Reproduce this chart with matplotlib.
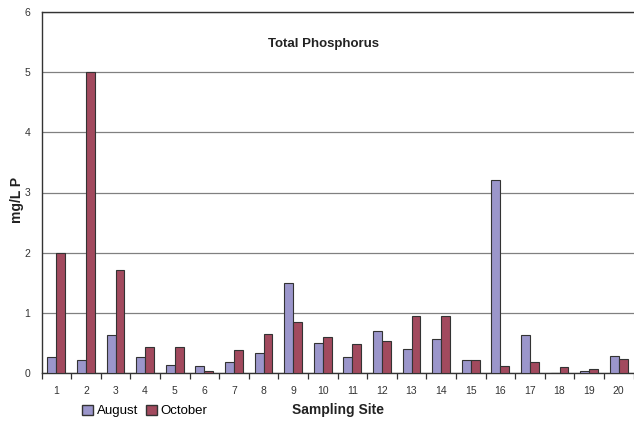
import numpy as np
import matplotlib
matplotlib.use('Agg')
import matplotlib.pyplot as plt
from matplotlib.patches import Patch

plt.rcParams['font.family'] = ['Liberation Sans', 'DejaVu Sans']

SITES = [str(i) for i in range(1, 21)]
AUGUST = [0.26, 0.22, 0.63, 0.26, 0.13, 0.11, 0.18, 0.34, 1.50, 0.50,
          0.27, 0.70, 0.40, 0.56, 0.21, 3.20, 0.63, 0.00, 0.03, 0.28]
OCTOBER = [2.00, 5.00, 1.71, 0.44, 0.44, 0.03, 0.39, 0.65, 0.85, 0.60,
           0.48, 0.54, 0.95, 0.95, 0.22, 0.11, 0.18, 0.10, 0.06, 0.24]
Y_TICKS = [0, 1, 2, 3, 4, 5, 6]

AUG_COLOR = '#9B96CB'
OCT_COLOR = '#A24A5E'
EDGE = '#333333'

fig = plt.figure(figsize=(6.34, 4.22), dpi=100)
ax = fig.add_axes([41.5 / 634, 1 - 373 / 422, 592 / 634, 361 / 422])

x = np.arange(len(SITES))
w = 0.3
ax.bar(x - w / 2, AUGUST, w, color=AUG_COLOR, edgecolor=EDGE, lw=0.8, zorder=3)
ax.bar(x + w / 2, OCTOBER, w, color=OCT_COLOR, edgecolor=EDGE, lw=0.8, zorder=3)

ax.set_xlim(-0.5, len(SITES) - 0.5)
ax.set_ylim(0, 6)
ax.set_yticks(Y_TICKS)
ax.set_yticklabels([str(t) for t in Y_TICKS], fontsize=7.5, color='#333333')
ax.yaxis.grid(True, color='#808080', lw=0.9, zorder=0)
ax.tick_params(axis='y', length=0, pad=8)

# category labels at centres, tick marks between categories
ax.set_xticks(x)
ax.set_xticklabels(SITES, fontsize=7.5, color='#333333')
ax.set_xticks(np.arange(-0.5, len(SITES)), minor=True)
ax.tick_params(axis='x', which='major', length=0, pad=9)
ax.tick_params(axis='x', which='minor', length=4, width=0.9, color='#333333')

ax.spines['right'].set_visible(False)
for side in ['left', 'bottom', 'top']:
    ax.spines[side].set_color('#333333')
    ax.spines[side].set_linewidth(1.0)

ax.text((323 - 41.5) / 592, 0.91, 'Total Phosphorus', transform=ax.transAxes,
        ha='center', va='center', fontsize=9.5, fontweight='bold', color='#222222')

fig.text(17 / 634, 1 - 200 / 422, 'mg/L P', rotation=90, ha='center', va='center',
         fontsize=10, fontweight='bold', color='#222222')
fig.text(338 / 634, 1 - 410 / 422, 'Sampling Site', ha='center', va='center',
         fontsize=10, fontweight='bold', color='#222222')

handles = [Patch(facecolor=AUG_COLOR, edgecolor=EDGE, label='August'),
           Patch(facecolor=OCT_COLOR, edgecolor=EDGE, label='October')]
fig.legend(handles=handles, ncol=2, frameon=False, fontsize=9.5,
           loc='center left', bbox_to_anchor=(77 / 634, 1 - 411 / 422),
           handlelength=0.8, handleheight=0.8, handletextpad=0.3,
           columnspacing=0.6, borderaxespad=0)

fig.savefig('out.png', dpi=100)
